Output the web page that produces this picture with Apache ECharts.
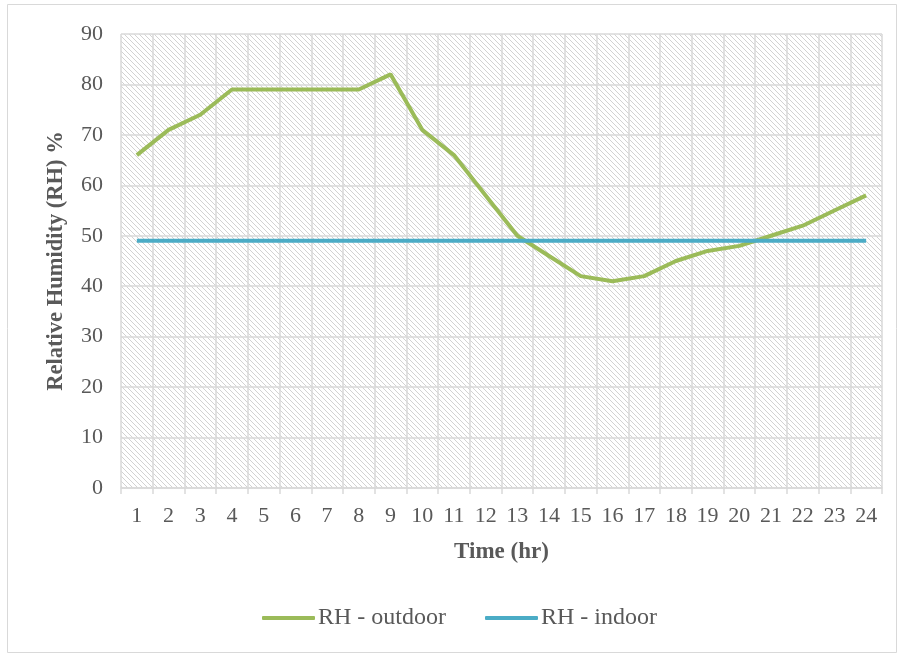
<!DOCTYPE html>
<html>
<head>
<meta charset="utf-8">
<script src="https://cdn.jsdelivr.net/npm/echarts@6/dist/echarts.min.js"></script>
<style>
html,body{margin:0;padding:0;background:#fff;}
#chart{width:898px;height:655px;}
</style>
</head>
<body>
<div id="chart"></div>
<script>
var hours = ['1','2','3','4','5','6','7','8','9','10','11','12','13','14','15','16','17','18','19','20','21','22','23','24'];
var rhOutdoor = [66,71,74,79,79,79,79,79,82,71,66,58,50,46,42,41,42,45,47,48,50,52,55,58];
var rhIndoor = [49,49,49,49,49,49,49,49,49,49,49,49,49,49,49,49,49,49,49,49,49,49,49,49];
var yTicks = { min: 0, max: 90, interval: 10 };

var tile = document.createElement('canvas');
var s = 5;
tile.width = s; tile.height = s;
var ctx = tile.getContext('2d');
ctx.fillStyle = '#ffffff';
ctx.fillRect(0, 0, s, s);
ctx.strokeStyle = '#d2d2d2';
ctx.lineWidth = 1;
[-s, 0, s].forEach(function (k) {
  ctx.beginPath();
  ctx.moveTo(k, 0);
  ctx.lineTo(k + s, s);
  ctx.stroke();
});

var font = '"Liberation Serif", "Times New Roman", serif';
var chart = echarts.init(document.getElementById('chart'), null, { renderer: 'canvas' });
chart.setOption({
  animation: false,
  backgroundColor: '#ffffff',
  graphic: [{
    type: 'rect',
    shape: { x: 7.5, y: 4.5, width: 889, height: 648 },
    style: { fill: 'none', stroke: '#d9d9d9', lineWidth: 1 },
    silent: true
  }],
  grid: {
    left: 121, right: 16, top: 34, bottom: 167,
    show: true,
    backgroundColor: { image: tile, repeat: 'repeat' },
    borderWidth: 0
  },
  legend: {
    bottom: 20,
    left: 257,
    icon: 'roundRect',
    itemWidth: 53,
    itemHeight: 4,
    itemGap: 39,
    textStyle: { fontFamily: font, fontSize: 24, color: '#595959', padding: [0, 0, 0, -2] },
    data: ['RH - outdoor', 'RH - indoor']
  },
  xAxis: {
    type: 'category',
    data: hours,
    boundaryGap: true,
    name: 'Time (hr)',
    nameLocation: 'middle',
    nameGap: 53,
    nameTextStyle: { fontFamily: font, fontSize: 23, fontWeight: 'bold', color: '#595959' },
    axisLine: { show: true, lineStyle: { color: '#d9d9d9', width: 1.5 } },
    axisTick: { show: true, length: 6, lineStyle: { color: '#d9d9d9', width: 1.5 } },
    splitLine: { show: true, lineStyle: { color: '#d9d9d9', width: 1.5 } },
    axisLabel: { fontFamily: font, fontSize: 22, color: '#595959', margin: 17 }
  },
  yAxis: {
    type: 'value',
    min: yTicks.min, max: yTicks.max, interval: yTicks.interval,
    name: 'Relative Humidity (RH) %',
    nameLocation: 'middle',
    nameGap: 53,
    nameTextStyle: { fontFamily: font, fontSize: 22.5, fontWeight: 'bold', color: '#595959' },
    axisLine: { show: false },
    axisTick: { show: false },
    splitLine: { show: true, lineStyle: { color: '#d9d9d9', width: 1.5 } },
    axisLabel: { fontFamily: font, fontSize: 22, color: '#595959', margin: 18 }
  },
  series: [
    {
      name: 'RH - outdoor', type: 'line', data: rhOutdoor, symbol: 'none',
      lineStyle: { color: '#9BBB59', width: 4 }, itemStyle: { color: '#9BBB59' }
    },
    {
      name: 'RH - indoor', type: 'line', data: rhIndoor, symbol: 'none',
      lineStyle: { color: '#4BACC6', width: 4 }, itemStyle: { color: '#4BACC6' }
    }
  ]
});
</script>
</body>
</html>
